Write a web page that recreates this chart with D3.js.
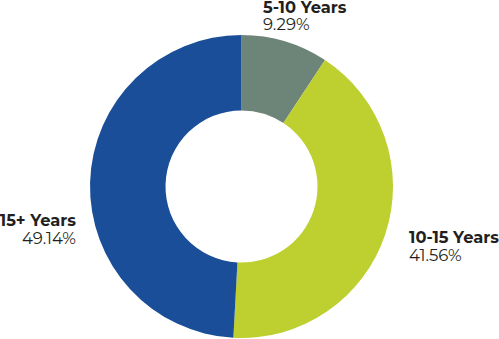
<!DOCTYPE html>
<html>
<head>
<meta charset="utf-8">
<script src="https://cdn.jsdelivr.net/npm/d3@7"></script>
<style>
  html, body { margin: 0; padding: 0; background: #fff; }
  svg { display: block; }
  text { font-family: "Montserrat", Lato, "Open Sans", sans-serif; fill: #231f20; }
</style>
</head>
<body>
<svg id="chart"></svg>
<script>
const categories = ["5-10 Years", "10-15 Years", "15+ Years"];
const values = [9.29, 41.56, 49.14];
const colors = ["#6d8479", "#bdd030", "#1a4e98"];

const width = 499, height = 339;
const cx = 241.5, cy = 186.5;
const outerR = 151.5, innerR = 76;

// label anchor spots (layout only)
const labelSpots = [
  { x: 263, y: 12.5, anchor: "start" },
  { x: 409, y: 243, anchor: "start" },
  { x: 76, y: 226, anchor: "end" }
];

const svg = d3.select("#chart").attr("width", width).attr("height", height);

const pie = d3.pie().sort(null).value(d => d)(values);
const arc = d3.arc().innerRadius(innerR).outerRadius(outerR);

const g = svg.append("g").attr("transform", "translate(" + cx + "," + cy + ")");
g.selectAll("path")
  .data(pie)
  .join("path")
  .attr("fill", (d, i) => colors[i])
  .attr("d", arc);

const labels = svg.selectAll("g.lbl")
  .data(pie)
  .join("g")
  .attr("class", "lbl")
  .attr("transform", (d, i) => "translate(" + labelSpots[i].x + "," + labelSpots[i].y + ")")
  .attr("text-anchor", (d, i) => labelSpots[i].anchor);

labels.append("text")
  .attr("font-size", 16.3)
  .attr("font-weight", "bold")
  .text((d, i) => categories[i]);

labels.append("text")
  .attr("y", 17.5)
  .attr("font-size", 16.5)
  .text(d => d.data.toFixed(2) + "%");
</script>
</body>
</html>
